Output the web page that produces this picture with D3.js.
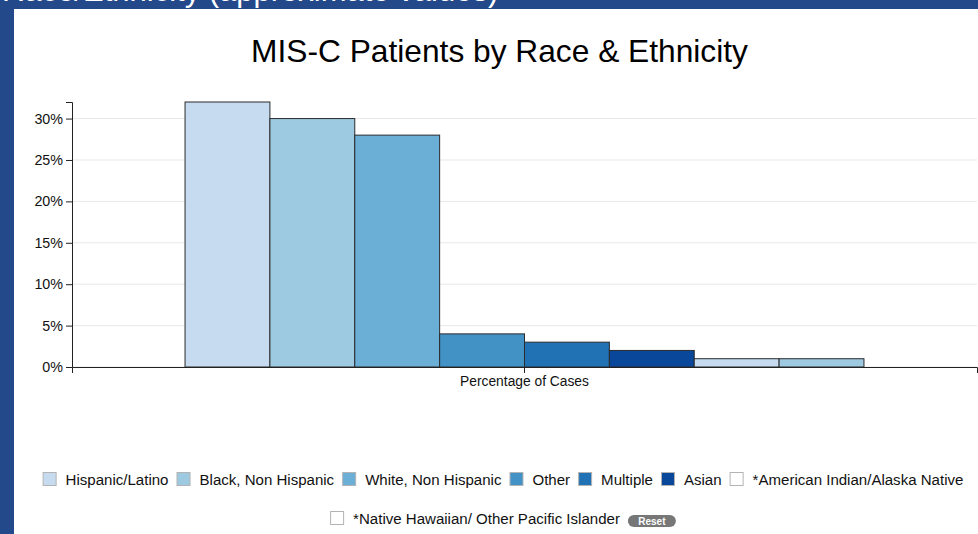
<!DOCTYPE html>
<html>
<head>
<meta charset="utf-8">
<script src="https://cdn.jsdelivr.net/npm/d3@7"></script>
<style>
  html, body { margin: 0; padding: 0; background: #24498a; }
  svg { display: block; font-family: "Liberation Sans", Arial, sans-serif; }
</style>
</head>
<body>
<svg id="chart" width="978" height="534"></svg>
<script>
// Share of MIS-C patients by race & ethnicity (percent)
const groups = ["Percentage of Cases"];
const categories = [
  "Hispanic/Latino",
  "Black, Non Hispanic",
  "White, Non Hispanic",
  "Other",
  "Multiple",
  "Asian",
  "*American Indian/Alaska Native",
  "*Native Hawaiian/ Other Pacific Islander"
];
const percentages = [32, 30, 28, 4, 3, 2, 1, 1];
const yTicks = [0, 5, 10, 15, 20, 25, 30];
const barColors = ["#c6dbef", "#9ecae1", "#6baed6", "#4292c6", "#2171b5", "#08479a", "#c6dbef", "#9ecae1"];
const legendColors = ["#c6dbef", "#9ecae1", "#6baed6", "#4292c6", "#2171b5", "#08479a", "#ffffff", "#ffffff"];

const W = 978, H = 534;
const svg = d3.select("#chart");

// slide backdrop and white card
svg.append("rect").attr("width", W).attr("height", H).attr("fill", "#24498a");
svg.append("clipPath").attr("id", "topClip")
  .append("rect").attr("x", 0).attr("y", 0).attr("width", W).attr("height", 9);
svg.append("text")
  .attr("clip-path", "url(#topClip)")
  .attr("x", 2).attr("y", 1)
  .attr("fill", "#ffffff")
  .attr("font-size", 31)
  .text("Race/Ethnicity (approximate values)");
svg.append("rect").attr("x", 14).attr("y", 9).attr("width", W - 14).attr("height", H - 9).attr("fill", "#ffffff");

// title
const title = svg.append("text")
  .attr("x", 499.5).attr("y", 62)
  .attr("text-anchor", "middle")
  .attr("fill", "#000")
  .attr("font-size", 31)
  .text("MIS-C Patients by Race & Ethnicity");
const tw = title.node().getComputedTextLength();
title.attr("font-size", 31 * 497 / tw);

// plot area
const plotLeft = 72, plotRight = 977, plotTop = 102, plotBottom = 367;

const x0 = d3.scaleBand().domain(groups).range([plotLeft, plotRight]).paddingInner(0).paddingOuter(0.1665);
const x1 = d3.scaleBand().domain(categories).range([0, x0.bandwidth()]).padding(0);
const y = d3.scaleLinear().domain([0, d3.max(percentages)]).range([plotBottom, plotTop]);

// horizontal grid
svg.append("g")
  .selectAll("line").data(yTicks).join("line")
  .attr("x1", plotLeft).attr("x2", plotRight)
  .attr("y1", d => y(d)).attr("y2", d => y(d))
  .attr("stroke", "#e8e8e8").attr("stroke-width", 1);

// bars
const barData = categories.map((c, i) => ({ cat: c, value: percentages[i], color: barColors[i] }));
svg.append("g")
  .selectAll("g").data(groups).join("g")
  .attr("transform", g => `translate(${x0(g)},0)`)
  .selectAll("rect").data(barData).join("rect")
  .attr("x", d => x1(d.cat))
  .attr("y", d => y(d.value))
  .attr("width", x1.bandwidth())
  .attr("height", d => y(0) - y(d.value))
  .attr("fill", d => d.color)
  .attr("stroke", "#2b2b2b").attr("stroke-width", 1);

// axes
const yAxis = svg.append("g")
  .attr("transform", `translate(${plotLeft},0)`)
  .call(d3.axisLeft(y).tickValues(yTicks).tickFormat(d => d + "%"));
const xAxis = svg.append("g")
  .attr("transform", `translate(0,${plotBottom})`)
  .call(d3.axisBottom(x0));
[yAxis, xAxis].forEach(a => {
  a.selectAll("text").attr("font-size", 14.3).attr("fill", "#111")
    .attr("font-family", "'Liberation Sans', Arial, sans-serif");
  a.selectAll("path, line").attr("stroke", "#222");
});
xAxis.selectAll("text").attr("font-size", 13.8);

// legend
const legendItems = categories.map((c, i) => ({ label: c, color: legendColors[i] }));
const fs = 15.05, sw = 14, gapText = 9, gapItem = 8, maxRow = 935;
const measure = svg.append("text").attr("font-size", fs).attr("visibility", "hidden");
legendItems.forEach(d => {
  measure.text(d.label);
  d.tw = measure.node().getComputedTextLength();
  d.w = sw + gapText + d.tw;
});
measure.remove();

const rows = [[]];
let rowW = 0;
legendItems.forEach(d => {
  const add = (rows[rows.length - 1].length ? gapItem : 0) + d.w;
  if (rowW + add > maxRow) { rows.push([d]); rowW = d.w; }
  else { rows[rows.length - 1].push(d); rowW += add; }
});
const resetW = 48;
const rowY = [472, 511];
const cx = 503;
rows.forEach((row, ri) => {
  let total = d3.sum(row, d => d.w) + gapItem * (row.length - 1);
  if (ri === rows.length - 1) total += gapItem + resetW;
  let xPos = cx - total / 2;
  const g = svg.append("g");
  row.forEach(d => {
    g.append("rect")
      .attr("x", xPos + 0.5).attr("y", rowY[ri] + 0.5)
      .attr("width", sw - 1).attr("height", sw - 1)
      .attr("fill", d.color).attr("stroke", "#b3b3b3").attr("stroke-width", 1);
    g.append("text")
      .attr("x", xPos + sw + gapText).attr("y", rowY[ri] + 13)
      .attr("font-size", fs).attr("fill", "#111")
      .text(d.label);
    xPos += d.w + gapItem;
  });
  if (ri === rows.length - 1) {
    g.append("rect")
      .attr("x", xPos).attr("y", rowY[ri] + 4)
      .attr("width", resetW).attr("height", 12).attr("rx", 6)
      .attr("fill", "#777");
    g.append("text")
      .attr("x", xPos + resetW / 2).attr("y", rowY[ri] + 13.8)
      .attr("text-anchor", "middle")
      .attr("font-size", 10).attr("font-weight", "bold").attr("fill", "#fff")
      .text("Reset");
  }
});
</script>
</body>
</html>
